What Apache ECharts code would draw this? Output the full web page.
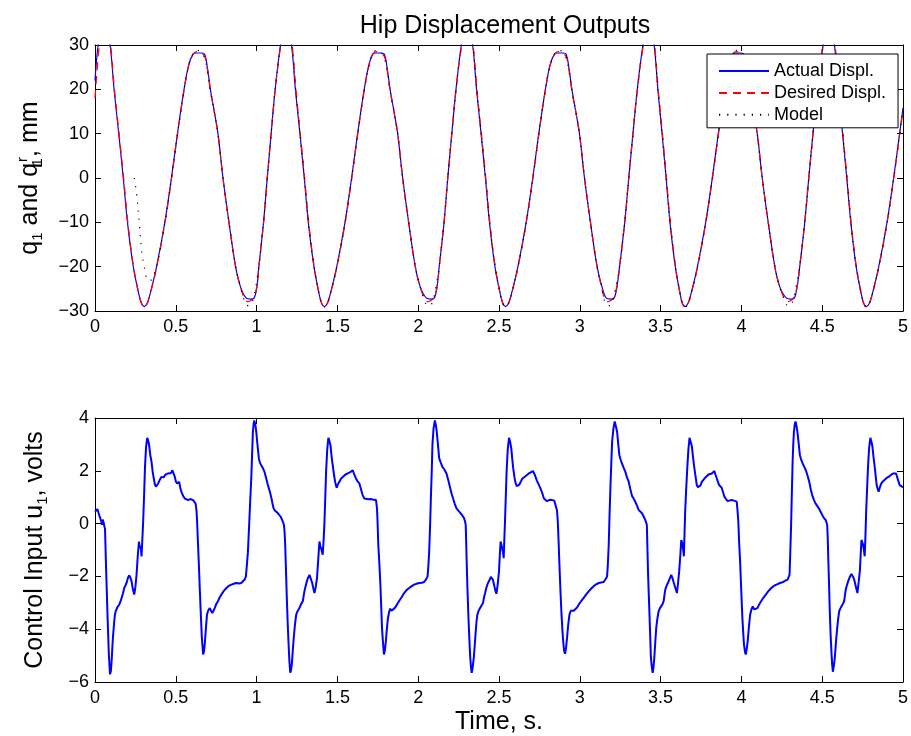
<!DOCTYPE html>
<html>
<head>
<meta charset="utf-8">
<script src="https://cdn.jsdelivr.net/npm/echarts@6/dist/echarts.min.js"></script>
<style>
html,body{margin:0;padding:0;background:#fff;}
#chart{width:911px;height:736px;}
</style>
</head>
<body>
<div id="chart"></div>
<script>
// ---------- data ----------
var timeTicks = [0, 0.5, 1, 1.5, 2, 2.5, 3, 3.5, 4, 4.5, 5];
var dispTicks = [-30, -20, -10, 0, 10, 20, 30];
var voltTicks = [-6, -4, -2, 0, 2, 4];
var seriesNames = ['Actual Displ.', 'Desired Displ.', 'Model'];

// Actual hip displacement q1 (mm) : [time, value]
var actualDispl = [
[0,22],[0.01,26.8],[0.02,30],[0.037,32],[0.055,32.6],[0.073,32],[0.093,30],[0.118,20],[0.147,10],[0.175,0],[0.201,-10],[0.237,-20],[0.27,-26],[0.288,-28.3],[0.305,-29],[0.322,-28.3],[0.34,-26.3],[0.381,-20],[0.432,-10],[0.473,0],[0.51,10],[0.551,20],[0.58,25.5],[0.607,28],[0.625,28.2],[0.643,28.2],[0.661,28.2],[0.679,27.9],[0.697,24.5],[0.714,20],[0.738,15],[0.761,10],[0.792,0],[0.829,-10],[0.87,-20],[0.9,-24.5],[0.936,-27.1],[0.962,-27.3],[0.984,-27.1],[1.002,-24.5],[1.014,-20],[1.043,-10],[1.066,0],[1.09,10],[1.115,20],[1.148,30],[1.163,32],[1.18,32.6],[1.197,32],
[1.216,30],[1.24,20],[1.268,10],[1.295,0],[1.32,-10],[1.355,-20],[1.386,-26],[1.403,-28.3],[1.42,-29],[1.437,-28.3],[1.455,-26.3],[1.496,-20],[1.547,-10],[1.588,0],[1.625,10],[1.666,20],[1.695,25.5],[1.719,28],[1.737,28.2],[1.755,28.2],[1.773,28.2],[1.791,27.9],[1.809,24.5],[1.826,20],[1.85,15],[1.873,10],[1.904,0],[1.941,-10],[1.982,-20],[2.012,-24.5],[2.051,-27.1],[2.077,-27.3],[2.099,-27.1],[2.117,-24.5],[2.13,-20],[2.16,-10],[2.183,0],[2.208,10],[2.234,20],[2.267,30],[2.283,32],[2.3,32.6],[2.318,32],
[2.337,30],[2.361,20],[2.389,10],[2.416,0],[2.441,-10],[2.475,-20],[2.507,-26],[2.524,-28.3],[2.541,-29],[2.558,-28.3],[2.576,-26.3],[2.617,-20],[2.668,-10],[2.709,0],[2.746,10],[2.787,20],[2.816,25.5],[2.844,28],[2.862,28.2],[2.88,28.2],[2.898,28.2],[2.916,27.9],[2.934,24.5],[2.951,20],[2.975,15],[2.998,10],[3.029,0],[3.066,-10],[3.107,-20],[3.137,-24.5],[3.164,-27.1],[3.19,-27.3],[3.212,-27.1],[3.23,-24.5],[3.246,-20],[3.278,-10],[3.303,0],[3.329,10],[3.356,20],[3.391,30],[3.409,32],[3.426,32.6],[3.443,32],
[3.46,30],[3.483,20],[3.509,10],[3.534,0],[3.558,-10],[3.591,-20],[3.62,-26],[3.635,-28.3],[3.652,-29],[3.669,-28.3],[3.687,-26.3],[3.728,-20],[3.779,-10],[3.82,0],[3.857,10],[3.898,20],[3.927,25.5],[3.946,28],[3.962,28.2],[3.98,28.2],[3.998,28.2],[4.016,27.9],[4.034,24.5],[4.051,20],[4.075,15],[4.098,10],[4.129,0],[4.166,-10],[4.207,-20],[4.237,-24.5],[4.279,-27.1],[4.305,-27.3],[4.327,-27.1],[4.345,-24.5],[4.361,-20],[4.392,-10],[4.417,0],[4.443,10],[4.47,20],[4.505,30],[4.523,32],[4.54,32.6],[4.558,32],
[4.576,30],[4.599,20],[4.626,10],[4.652,0],[4.677,-10],[4.71,-20],[4.741,-26],[4.757,-28.3],[4.774,-29],[4.791,-28.3],[4.809,-26.3],[4.85,-20],[4.901,-10],[4.942,0],[4.979,10],[5,15.8]
];

// Desired hip displacement q1^r (mm)
var desiredDispl = [
[0,18],[0.012,24],[0.024,29],[0.04,32],[0.06,32.8],[0.078,32],[0.096,30],[0.12,20],[0.149,10],[0.177,0],[0.203,-10],[0.238,-20],[0.27,-26],[0.288,-28.3],[0.305,-29.1],[0.322,-28.4],[0.34,-26.4],[0.382,-20],[0.433,-10],[0.474,0],[0.511,10],[0.552,20],[0.58,25.4],[0.607,27.9],[0.631,28.5],[0.655,28.2],[0.679,27.4],[0.697,24.2],[0.713,20],[0.738,15],[0.761,10],[0.792,0],[0.829,-10],[0.87,-20],[0.9,-24.5],[0.927,-27.4],[0.946,-27.9],[0.966,-27.6],[0.984,-26.8],[1.002,-24.4],[1.014,-20],[1.043,-10],[1.066,0],[1.09,10],[1.115,20],[1.15,30],[1.166,32],[1.183,32.8],[1.2,32],
[1.219,30],[1.243,20],[1.27,10],[1.297,0],[1.322,-10],[1.356,-20],[1.386,-26],[1.403,-28.3],[1.42,-29.1],[1.437,-28.4],[1.455,-26.4],[1.497,-20],[1.548,-10],[1.589,0],[1.626,10],[1.667,20],[1.695,25.4],[1.719,27.9],[1.743,28.5],[1.767,28.2],[1.791,27.4],[1.809,24.2],[1.825,20],[1.85,15],[1.873,10],[1.904,0],[1.941,-10],[1.982,-20],[2.012,-24.5],[2.042,-27.4],[2.061,-27.9],[2.081,-27.6],[2.099,-26.8],[2.117,-24.4],[2.13,-20],[2.16,-10],[2.183,0],[2.208,10],[2.234,20],[2.269,30],[2.286,32],[2.303,32.8],[2.32,32],
[2.339,30],[2.363,20],[2.391,10],[2.418,0],[2.443,-10],[2.476,-20],[2.507,-26],[2.524,-28.3],[2.541,-29.1],[2.558,-28.4],[2.576,-26.4],[2.618,-20],[2.669,-10],[2.71,0],[2.747,10],[2.788,20],[2.816,25.4],[2.844,27.9],[2.868,28.5],[2.892,28.2],[2.916,27.4],[2.934,24.2],[2.95,20],[2.975,15],[2.998,10],[3.029,0],[3.066,-10],[3.107,-20],[3.134,-24.5],[3.155,-27.4],[3.174,-27.9],[3.194,-27.6],[3.212,-26.8],[3.23,-24.4],[3.246,-20],[3.278,-10],[3.303,0],[3.329,10],[3.356,20],[3.393,30],[3.411,32],[3.429,32.8],[3.446,32],
[3.462,30],[3.485,20],[3.511,10],[3.536,0],[3.56,-10],[3.592,-20],[3.62,-26],[3.635,-28.3],[3.652,-29.1],[3.669,-28.4],[3.687,-26.4],[3.729,-20],[3.78,-10],[3.821,0],[3.858,10],[3.899,20],[3.927,25.4],[3.946,27.9],[3.968,28.5],[3.992,28.2],[4.016,27.4],[4.034,24.2],[4.05,20],[4.075,15],[4.098,10],[4.129,0],[4.166,-10],[4.207,-20],[4.237,-24.5],[4.27,-27.4],[4.289,-27.9],[4.309,-27.6],[4.327,-26.8],[4.345,-24.4],[4.361,-20],[4.392,-10],[4.417,0],[4.443,10],[4.47,20],[4.507,30],[4.526,32],[4.543,32.8],[4.561,32],
[4.579,30],[4.602,20],[4.628,10],[4.654,0],[4.679,-10],[4.711,-20],[4.741,-26],[4.757,-28.3],[4.774,-29.1],[4.791,-28.4],[4.809,-26.4],[4.851,-20],[4.902,-10],[4.943,0],[4.98,10],[5,15.2]
];

// Model output (mm)
var modelDispl = [
[0.243,0],[0.257,-3.5],[0.274,-10.2],[0.288,-16.2],[0.309,-20.8],[0.329,-23.2],[0.348,-23],[0.365,-21.8],[0.382,-20],[0.433,-10],[0.474,0],[0.511,10],[0.552,20],[0.58,25.4],[0.607,28],[0.629,28.8],[0.651,28.6],[0.677,27.2],[0.696,24.2],[0.713,19.9],[0.738,15],[0.761,10],[0.792,0],[0.829,-10],[0.87,-20],[0.9,-24.6],[0.924,-27.6],[0.94,-28.7],[0.958,-28.8],[0.975,-27.8],[0.99,-25.5],[1.014,-20],[1.043,-10],[1.066,0],[1.09,10],[1.115,20],[1.149,30],[1.165,32],[1.182,32.7],[1.2,32],
[1.218,30],[1.242,20],[1.269,10],[1.296,0],[1.321,-10],[1.355,-20],[1.386,-26],[1.403,-28.3],[1.42,-29.1],[1.437,-28.4],[1.455,-26.4],[1.497,-20],[1.548,-10],[1.589,0],[1.626,10],[1.667,20],[1.695,25.4],[1.719,28],[1.741,28.8],[1.763,28.6],[1.789,27.2],[1.808,24.2],[1.825,19.9],[1.85,15],[1.873,10],[1.904,0],[1.941,-10],[1.982,-20],[2.012,-24.6],[2.039,-27.6],[2.055,-28.7],[2.073,-28.8],[2.09,-27.8],[2.105,-25.5],[2.13,-20],[2.16,-10],[2.183,0],[2.208,10],[2.234,20],[2.268,30],[2.285,32],[2.302,32.7],[2.32,32],
[2.338,30],[2.362,20],[2.39,10],[2.417,0],[2.442,-10],[2.476,-20],[2.507,-26],[2.524,-28.3],[2.541,-29.1],[2.558,-28.4],[2.576,-26.4],[2.618,-20],[2.669,-10],[2.71,0],[2.747,10],[2.788,20],[2.816,25.4],[2.844,28],[2.866,28.8],[2.888,28.6],[2.914,27.2],[2.933,24.2],[2.95,19.9],[2.975,15],[2.998,10],[3.029,0],[3.066,-10],[3.107,-20],[3.134,-24.6],[3.152,-27.6],[3.168,-28.7],[3.186,-28.8],[3.203,-27.8],[3.218,-25.5],[3.246,-20],[3.278,-10],[3.303,0],[3.329,10],[3.356,20],[3.392,30],[3.41,32],[3.428,32.7],[3.445,32],
[3.461,30],[3.484,20],[3.51,10],[3.535,0],[3.559,-10],[3.592,-20],[3.62,-26],[3.635,-28.3],[3.652,-29.1],[3.669,-28.4],[3.687,-26.4],[3.729,-20],[3.78,-10],[3.821,0],[3.858,10],[3.899,20],[3.927,25.4],[3.946,28],[3.966,28.8],[3.988,28.6],[4.014,27.2],[4.033,24.2],[4.05,19.9],[4.075,15],[4.098,10],[4.129,0],[4.166,-10],[4.207,-20],[4.237,-24.6],[4.267,-27.6],[4.283,-28.7],[4.301,-28.8],[4.318,-27.8],[4.333,-25.5],[4.361,-20],[4.392,-10],[4.417,0],[4.443,10],[4.47,20],[4.506,30],[4.524,32],[4.542,32.7],[4.56,32],
[4.578,30],[4.601,20],[4.627,10],[4.653,0],[4.678,-10],[4.711,-20],[4.741,-26],[4.757,-28.3],[4.774,-29.1],[4.791,-28.4],[4.809,-26.4],[4.851,-20],[4.902,-10],[4.943,0],[4.98,10],[5,15.5]
];

// Control input u1 (volts)
var controlInput = [
[0,0.45],[0.008,0.5],[0.015,0.55],[0.022,0.4],[0.03,0.25],[0.038,0.1],[0.043,-0.05],[0.048,0.15],[0.053,0.05],[0.058,-0.1],[0.062,-0.2],[0.068,-1.56],[0.078,-3.57],[0.086,-5.0],[0.093,-5.71],[0.098,-5.6],[0.103,-5.2],[0.11,-4.4],[0.117,-3.85],[0.123,-3.45],[0.129,-3.3],[0.14,-3.15],[0.15,-3.07],[0.158,-2.95],[0.165,-2.94],[0.173,-2.65],[0.181,-2.44],[0.188,-2.35],[0.195,-2.25],[0.204,-2.05],[0.212,-1.96],[0.219,-2.05],[0.226,-2.18],[0.235,-2.5],[0.243,-2.69],[0.25,-2.4],[0.257,-1.94],[0.265,-1.2],[0.272,-0.68],[0.278,-0.93],[0.283,-0.85],[0.288,-1.24],[0.293,-0.6],[0.298,0.07],[0.304,1.1],[0.309,2.09],[0.316,2.9],[0.323,3.25],[0.329,3.15],[0.335,2.97],[0.342,2.6],[0.35,2.34],[0.357,1.95],[0.364,1.71],[0.37,1.5],[0.377,1.4],[0.384,1.45],[0.391,1.52],[0.4,1.65],[0.412,1.77],[0.425,1.75],[0.435,1.85],[0.442,1.83],[0.452,1.9],[0.463,1.96],[0.471,1.92],[0.479,2.02],[0.486,1.9],[0.494,1.77],[0.5,1.6],[0.508,1.52],[0.515,1.45],[0.521,1.58],[0.528,1.35],[0.535,1.2],[0.545,1.05],[0.556,0.95],[0.566,0.92],[0.576,0.89],[0.59,0.93],[0.6,0.88],[0.607,0.89],[0.616,0.85],[0.623,0.76],[0.628,0.5],[0.632,0.07],[0.637,-0.7],[0.642,-1.44],[0.648,-2.4],[0.654,-3.32],[0.661,-4.3],[0.669,-4.96],[0.674,-4.85],[0.679,-4.58],[0.686,-4.0],[0.693,-3.45],[0.7,-3.3],[0.71,-3.2],[0.718,-3.3],[0.726,-3.39],[0.733,-3.3],[0.741,-3.2],[0.75,-3.05],[0.761,-2.94],[0.771,-2.8],[0.782,-2.69],[0.797,-2.55],[0.813,-2.44],[0.828,-2.36],[0.844,-2.31],[0.859,-2.28],[0.874,-2.25],[0.89,-2.27],[0.905,-2.25],[0.916,-2.2],[0.926,-2.12],[0.934,-2.0],[0.94,-1.94],[0.946,-1.1],[0.953,-0.18],[0.96,0.8],[0.967,1.71],[0.972,2.6],[0.977,3.47],[0.982,3.8],[0.986,3.91],[0.992,3.75],[0.998,3.47],[1.006,2.95],[1.014,2.47],[1.021,2.3],[1.029,2.21],[1.039,2.1],[1.049,1.96],[1.06,1.7],[1.07,1.46],[1.08,1.25],[1.09,1.02],[1.097,0.8],[1.105,0.58],[1.113,0.5],[1.121,0.45],[1.131,0.4],[1.142,0.33],[1.15,0.25],[1.158,0.14],[1.164,0.05],[1.169,-0.05],[1.173,-0.3],[1.177,-0.8],[1.182,-1.8],[1.187,-2.81],[1.192,-3.7],[1.198,-4.58],[1.203,-5.2],[1.208,-5.65],[1.213,-5.55],[1.218,-5.33],[1.224,-4.8],[1.23,-4.33],[1.237,-3.85],[1.245,-3.45],[1.255,-3.3],[1.265,-3.2],[1.275,-3.05],[1.286,-2.94],[1.291,-2.75],[1.296,-2.56],[1.304,-2.35],[1.311,-2.18],[1.319,-2.05],[1.327,-1.94],[1.335,-2.08],[1.344,-2.25],[1.351,-2.45],[1.358,-2.63],[1.366,-2.4],[1.374,-2.06],[1.382,-1.3],[1.389,-0.68],[1.394,-0.85],[1.399,-0.93],[1.404,-1.0],[1.409,-1.18],[1.415,-0.6],[1.42,0.07],[1.425,1.0],[1.43,1.96],[1.437,2.8],[1.444,3.25],[1.45,3.15],[1.457,2.97],[1.464,2.55],[1.471,2.21],[1.479,1.85],[1.486,1.58],[1.491,1.45],[1.496,1.36],[1.504,1.5],[1.512,1.58],[1.522,1.7],[1.533,1.77],[1.548,1.85],[1.564,1.9],[1.58,1.95],[1.595,2.02],[1.605,1.85],[1.615,1.71],[1.625,1.6],[1.636,1.52],[1.646,1.3],[1.656,1.08],[1.667,0.95],[1.677,0.89],[1.692,0.92],[1.708,0.93],[1.724,0.9],[1.739,0.89],[1.745,0.58],[1.749,0.0],[1.753,-0.8],[1.76,-1.55],[1.766,-2.31],[1.771,-3.1],[1.776,-3.95],[1.782,-4.5],[1.788,-4.96],[1.794,-4.8],[1.8,-4.45],[1.806,-4.0],[1.813,-3.57],[1.82,-3.35],[1.827,-3.22],[1.834,-3.3],[1.841,-3.32],[1.851,-3.22],[1.862,-3.14],[1.872,-3.03],[1.883,-2.92],[1.898,-2.78],[1.913,-2.63],[1.928,-2.52],[1.944,-2.44],[1.96,-2.37],[1.975,-2.31],[1.99,-2.28],[2.006,-2.25],[2.022,-2.24],[2.037,-2.21],[2.048,-2.12],[2.058,-2.0],[2.063,-1.6],[2.068,-1.05],[2.074,0.0],[2.079,1.08],[2.084,2.0],[2.088,2.97],[2.095,3.6],[2.103,3.91],[2.109,3.75],[2.115,3.47],[2.122,3.0],[2.13,2.47],[2.14,2.3],[2.15,2.15],[2.162,2.05],[2.175,1.9],[2.186,1.65],[2.196,1.4],[2.206,1.15],[2.216,0.95],[2.226,0.75],[2.237,0.58],[2.25,0.48],[2.263,0.39],[2.274,0.3],[2.284,0.2],[2.29,0.08],[2.294,-0.05],[2.297,-0.7],[2.3,-1.44],[2.305,-2.5],[2.311,-3.57],[2.316,-4.3],[2.321,-4.96],[2.326,-5.4],[2.331,-5.65],[2.337,-5.45],[2.344,-5.08],[2.35,-4.6],[2.356,-4.08],[2.361,-3.7],[2.366,-3.45],[2.374,-3.3],[2.383,-3.2],[2.392,-3.1],[2.401,-3.01],[2.407,-2.8],[2.414,-2.63],[2.421,-2.45],[2.428,-2.31],[2.436,-2.2],[2.443,-2.12],[2.449,-2.02],[2.455,-1.96],[2.462,-2.12],[2.469,-2.31],[2.476,-2.5],[2.484,-2.66],[2.492,-2.3],[2.5,-1.81],[2.505,-1.2],[2.51,-0.68],[2.515,-0.8],[2.521,-0.87],[2.525,-1.1],[2.529,-1.31],[2.533,-0.6],[2.537,0.07],[2.542,1.0],[2.547,1.96],[2.554,2.8],[2.562,3.25],[2.569,3.1],[2.576,2.85],[2.582,2.45],[2.588,2.09],[2.596,1.75],[2.603,1.52],[2.61,1.42],[2.617,1.36],[2.626,1.48],[2.634,1.58],[2.644,1.7],[2.654,1.77],[2.665,1.8],[2.675,1.83],[2.685,1.9],[2.695,1.96],[2.71,1.99],[2.718,1.9],[2.726,1.77],[2.735,1.62],[2.743,1.52],[2.75,1.42],[2.757,1.33],[2.768,1.15],[2.778,0.95],[2.788,0.9],[2.798,0.85],[2.813,0.9],[2.829,0.89],[2.842,0.87],[2.854,0.83],[2.859,0.5],[2.864,0.07],[2.869,-0.7],[2.874,-1.56],[2.88,-2.5],[2.887,-3.45],[2.893,-4.1],[2.899,-4.58],[2.904,-4.85],[2.909,-4.93],[2.915,-4.7],[2.921,-4.33],[2.928,-3.85],[2.936,-3.45],[2.944,-3.3],[2.952,-3.26],[2.962,-3.3],[2.973,-3.32],[2.983,-3.18],[2.993,-3.07],[3.008,-2.94],[3.024,-2.81],[3.04,-2.68],[3.056,-2.56],[3.071,-2.46],[3.086,-2.37],[3.101,-2.3],[3.117,-2.25],[3.132,-2.23],[3.148,-2.21],[3.16,-2.1],[3.169,-2.0],[3.174,-1.5],[3.179,-0.8],[3.184,0.3],[3.19,1.46],[3.195,2.3],[3.2,3.1],[3.208,3.6],[3.216,3.87],[3.223,3.7],[3.231,3.47],[3.238,3.0],[3.245,2.59],[3.253,2.42],[3.261,2.28],[3.271,2.12],[3.282,1.96],[3.292,1.75],[3.302,1.6],[3.313,1.3],[3.323,1.05],[3.333,0.95],[3.343,0.83],[3.354,0.68],[3.364,0.52],[3.375,0.45],[3.385,0.39],[3.395,0.27],[3.405,0.14],[3.41,0.05],[3.415,-0.05],[3.418,-0.8],[3.422,-1.81],[3.427,-2.7],[3.432,-3.57],[3.436,-4.3],[3.44,-5.08],[3.446,-5.45],[3.451,-5.65],[3.456,-5.45],[3.461,-5.08],[3.467,-4.5],[3.473,-3.95],[3.48,-3.6],[3.488,-3.32],[3.496,-3.2],[3.504,-3.14],[3.512,-3.05],[3.519,-2.94],[3.524,-2.7],[3.529,-2.5],[3.537,-2.35],[3.545,-2.25],[3.555,-2.1],[3.566,-1.94],[3.574,-2.08],[3.582,-2.25],[3.592,-2.45],[3.601,-2.63],[3.608,-2.25],[3.615,-1.81],[3.622,-1.2],[3.628,-0.62],[3.632,-0.7],[3.636,-0.8],[3.64,-1.0],[3.644,-1.24],[3.648,-0.4],[3.652,0.45],[3.658,1.25],[3.665,2.09],[3.672,2.8],[3.679,3.25],[3.686,3.1],[3.694,2.91],[3.701,2.5],[3.708,2.15],[3.716,1.8],[3.724,1.46],[3.731,1.38],[3.739,1.31],[3.747,1.45],[3.755,1.58],[3.765,1.66],[3.776,1.74],[3.786,1.8],[3.796,1.86],[3.806,1.88],[3.817,1.9],[3.825,1.95],[3.833,1.99],[3.84,1.85],[3.848,1.71],[3.855,1.58],[3.862,1.46],[3.87,1.42],[3.878,1.36],[3.886,1.2],[3.895,1.02],[3.905,0.93],[3.915,0.85],[3.93,0.88],[3.944,0.89],[3.958,0.86],[3.971,0.83],[3.976,0.5],[3.981,0.07],[3.986,-0.7],[3.992,-1.44],[3.999,-2.5],[4.006,-3.57],[4.011,-4.1],[4.016,-4.58],[4.022,-4.85],[4.027,-4.96],[4.033,-4.75],[4.039,-4.45],[4.046,-3.95],[4.054,-3.45],[4.062,-3.25],[4.07,-3.14],[4.08,-3.25],[4.089,-3.32],[4.099,-3.2],[4.109,-3.07],[4.122,-2.94],[4.136,-2.81],[4.152,-2.68],[4.167,-2.56],[4.182,-2.46],[4.198,-2.37],[4.213,-2.32],[4.228,-2.28],[4.244,-2.24],[4.259,-2.21],[4.272,-2.16],[4.286,-2.12],[4.292,-2.03],[4.298,-1.94],[4.302,-1.2],[4.307,-0.18],[4.312,1.1],[4.317,2.34],[4.321,3.0],[4.325,3.47],[4.33,3.75],[4.335,3.87],[4.341,3.7],[4.348,3.41],[4.355,3.0],[4.362,2.59],[4.37,2.42],[4.379,2.28],[4.389,2.15],[4.399,2.02],[4.41,1.8],[4.42,1.58],[4.429,1.3],[4.438,1.08],[4.449,0.9],[4.459,0.76],[4.469,0.67],[4.479,0.58],[4.49,0.45],[4.5,0.33],[4.51,0.22],[4.521,0.14],[4.526,0.05],[4.531,-0.05],[4.534,-0.5],[4.537,-1.18],[4.542,-2.2],[4.547,-3.32],[4.552,-4.2],[4.558,-4.96],[4.562,-5.35],[4.566,-5.61],[4.572,-5.4],[4.578,-5.08],[4.585,-4.5],[4.593,-3.95],[4.599,-3.6],[4.605,-3.32],[4.612,-3.22],[4.619,-3.14],[4.627,-3.05],[4.636,-2.94],[4.641,-2.7],[4.646,-2.5],[4.653,-2.33],[4.661,-2.18],[4.671,-2.02],[4.681,-1.91],[4.69,-2.0],[4.698,-2.12],[4.708,-2.38],[4.718,-2.63],[4.726,-2.2],[4.733,-1.81],[4.738,-1.2],[4.743,-0.62],[4.748,-0.7],[4.753,-0.8],[4.758,-1.0],[4.763,-1.24],[4.768,-0.4],[4.772,0.45],[4.778,1.35],[4.784,2.21],[4.791,2.9],[4.798,3.25],[4.805,3.1],[4.811,2.91],[4.818,2.5],[4.825,2.15],[4.831,1.8],[4.837,1.46],[4.843,1.32],[4.849,1.21],[4.857,1.38],[4.866,1.52],[4.876,1.6],[4.886,1.65],[4.897,1.72],[4.907,1.77],[4.917,1.8],[4.928,1.83],[4.938,1.9],[4.948,1.96],[4.957,1.9],[4.965,1.83],[4.972,1.6],[4.979,1.46],[4.987,1.42],[4.994,1.4],[5,1.36]
];

// ---------- chart ----------
var FONT = "'Liberation Sans', Arial, Helvetica, sans-serif";
var chart = echarts.init(document.getElementById('chart'), null, {renderer: 'canvas'});

function minusFmt(v) { return String(v).replace('-', '\u2212'); }

function xAxisMain(gridIndex, extra) {
  var a = {
    type: 'value', gridIndex: gridIndex, position: 'bottom',
    min: timeTicks[0], max: timeTicks[timeTicks.length - 1], interval: timeTicks[1] - timeTicks[0],
    axisLine: {show: true, onZero: false, lineStyle: {color: '#000', width: 1}},
    axisTick: {show: true, inside: true, length: 6, lineStyle: {color: '#000', width: 1}},
    axisLabel: {show: true, color: '#000', fontSize: 18, fontFamily: FONT, margin: 7, formatter: minusFmt},
    splitLine: {show: false}
  };
  for (var k in extra) a[k] = extra[k];
  return a;
}
function xAxisTop(gridIndex) {
  return {
    type: 'value', gridIndex: gridIndex, position: 'top',
    min: timeTicks[0], max: timeTicks[timeTicks.length - 1], interval: timeTicks[1] - timeTicks[0],
    axisLine: {show: true, onZero: false, lineStyle: {color: '#000', width: 1}},
    axisTick: {show: true, inside: true, length: 6, lineStyle: {color: '#000', width: 1}},
    axisLabel: {show: false}, splitLine: {show: false}
  };
}
function yAxisPair(gridIndex, ticks, name, gap) {
  var base = {
    type: 'value', gridIndex: gridIndex,
    min: ticks[0], max: ticks[ticks.length - 1], interval: ticks[1] - ticks[0],
    axisLine: {show: true, onZero: false, lineStyle: {color: '#000', width: 1}},
    axisTick: {show: true, inside: true, length: 6, lineStyle: {color: '#000', width: 1}},
    splitLine: {show: false}
  };
  var left = Object.assign({}, base, {
    position: 'left',
    axisLabel: {show: true, color: '#000', fontSize: 18, fontFamily: FONT, margin: 6, formatter: minusFmt},
    name: name, nameLocation: 'middle', nameGap: gap, nameRotate: 90,
    nameTextStyle: {
      color: '#000', fontSize: 25, fontFamily: FONT, lineHeight: 30,
      rich: {
        s: {fontSize: 15, lineHeight: 15, verticalAlign: 'bottom', fontFamily: FONT, color: '#000'},
        k: {fontSize: 15, lineHeight: 15, width: 1, align: 'left', verticalAlign: 'bottom', fontFamily: FONT, color: '#000'},
        p: {fontSize: 15, lineHeight: 15, verticalAlign: 'top', fontFamily: FONT, color: '#000'}
      }
    }
  });
  var right = Object.assign({}, base, {position: 'right', axisLabel: {show: false}});
  return [left, right];
}

var yTop = yAxisPair(0, dispTicks, 'q{s|1} and q{k|1}{p|r}, mm', 50);
var yBot = yAxisPair(1, voltTicks, 'Control Input u{s|1}, volts', 45);

var option = {
  animation: false,
  backgroundColor: '#fff',
  title: {
    text: 'Hip Displacement Outputs',
    left: 500, top: 9, textAlign: 'center',
    textStyle: {fontSize: 25, fontWeight: 'normal', color: '#000', fontFamily: FONT}
  },
  legend: {
    data: seriesNames,
    orient: 'vertical',
    left: 707, top: 54,
    itemWidth: 50, itemHeight: 15, itemGap: 3.9,
    padding: [8, 12, 4, 11],
    borderColor: '#000', borderWidth: 1,
    backgroundColor: '#fff',
    itemStyle: {color: 'rgba(0,0,0,0)', borderWidth: 0, opacity: 0},
    textStyle: {fontSize: 18, color: '#000', fontFamily: FONT, lineHeight: 15}
  },
  grid: [
    {left: 95, right: 6, top: 45, height: 266},
    {left: 95, right: 6, top: 418, height: 265}
  ],
  xAxis: [
    xAxisMain(0, {}),
    xAxisTop(0),
    xAxisMain(1, {name: 'Time, s.', nameLocation: 'middle', nameGap: 28,
      nameTextStyle: {color: '#000', fontSize: 25, fontFamily: FONT}}),
    xAxisTop(1)
  ],
  yAxis: [yTop[0], yTop[1], yBot[0], yBot[1]],
  series: [
    {name: seriesNames[0], type: 'line', xAxisIndex: 0, yAxisIndex: 0, data: actualDispl,
     symbol: 'none', smooth: 0.35, clip: true,
     lineStyle: {color: '#0000ff', width: 1.2, type: 'solid'}, itemStyle: {color: '#0000ff'}},
    {name: seriesNames[1], type: 'line', xAxisIndex: 0, yAxisIndex: 0, data: desiredDispl,
     symbol: 'none', smooth: 0.35, clip: true,
     lineStyle: {color: '#ff0000', width: 1.3, type: [8, 6]}, itemStyle: {color: '#ff0000'}},
    {name: seriesNames[2], type: 'line', xAxisIndex: 0, yAxisIndex: 0, data: modelDispl,
     symbol: 'none', smooth: 0.35, clip: true,
     lineStyle: {color: '#000000', width: 1.2, type: [1.2, 7]}, itemStyle: {color: '#000000'}},
    {name: 'Control Input', type: 'line', xAxisIndex: 2, yAxisIndex: 2, data: controlInput,
     symbol: 'none', clip: true,
     lineStyle: {color: '#0000ff', width: 2}, itemStyle: {color: '#0000ff'}}
  ]
};
chart.setOption(option);
</script>
</body>
</html>
